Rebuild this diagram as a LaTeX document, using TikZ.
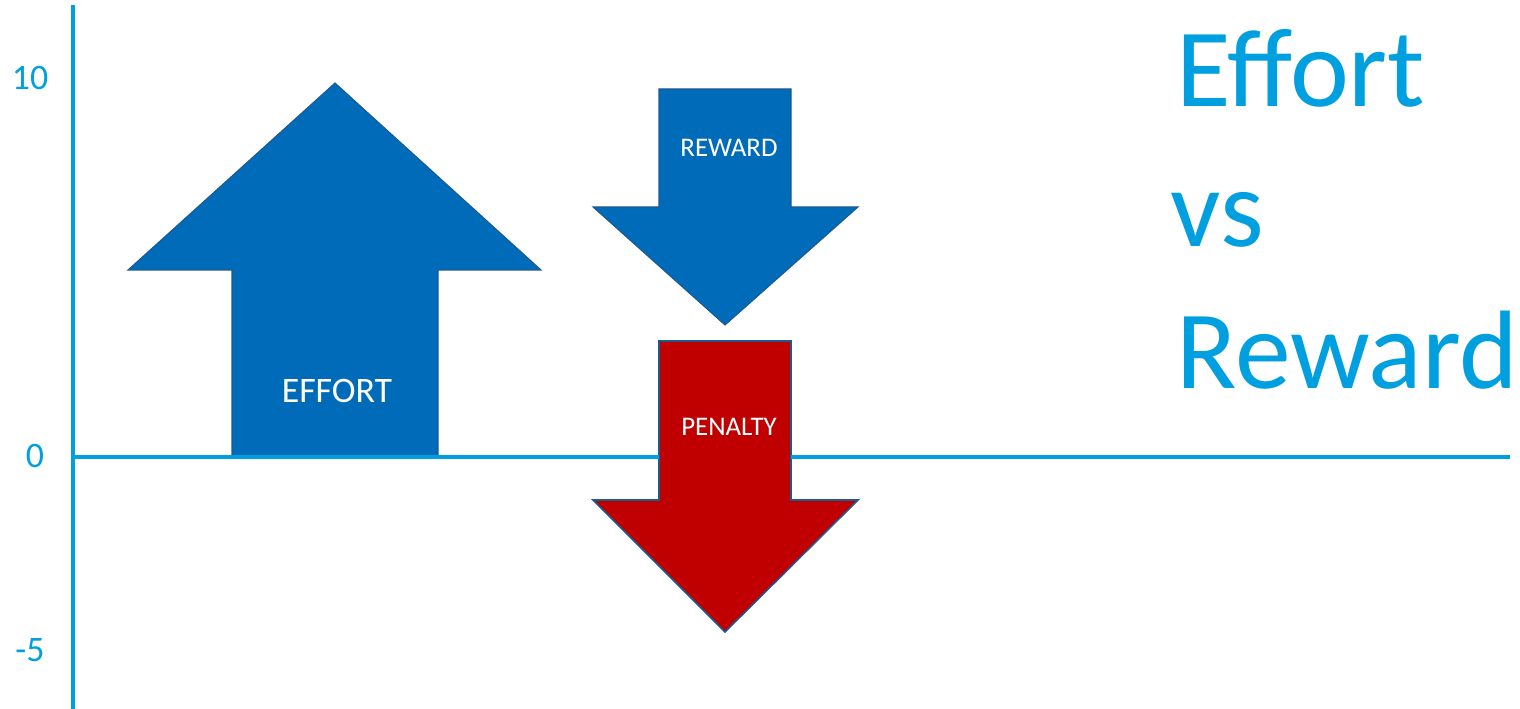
\documentclass[tikz,border=0pt]{standalone}
\usepackage{fontspec}
\setmainfont{Carlito}
\definecolor{axiscol}{HTML}{009FDF}
\definecolor{arrowblue}{HTML}{006BB9}
\definecolor{arrowedge}{HTML}{1D5A8E}
\definecolor{penaltyred}{HTML}{C00000}
\begin{document}
\begin{tikzpicture}[x=0.02cm,y=-0.02cm,
  axisline/.style={draw=axiscol,line width=2.2pt},
  ticklabel/.style={text=axiscol,anchor=base,inner sep=0pt,font=\fontsize{20.4}{24}\selectfont},
  bigarrow/.style={fill=arrowblue,draw=arrowedge,line width=0.6pt,line join=miter},
  redarrow/.style={fill=penaltyred,draw=arrowedge,line width=0.9pt,line join=miter},
  arrowtext/.style={text=white,anchor=base,inner sep=0pt},
  titletext/.style={text=axiscol,anchor=base west,inner sep=0pt,font=\fontsize{63.5}{76}\selectfont}]
\useasboundingbox (0,0) rectangle (1520,709);

% axes
\coordinate (ytop) at (73,5);
\coordinate (ybot) at (73,709);
\coordinate (xleft) at (73,457);
\coordinate (xright) at (1510,457);
\draw[axisline] (ytop) -- (ybot);

% effort arrow (pointing up)
\draw[bigarrow] (232,457) -- (232,270) -- (128,270) -- (335,83) -- (541,270)
  -- (438,270) -- (438,457) -- cycle;

% reward arrow (pointing down)
\draw[bigarrow] (659,89) -- (791,89) -- (791,207) -- (858,207) -- (725,325)
  -- (593,207) -- (659,207) -- cycle;

% penalty arrow (pointing down, below the reward)
\draw[redarrow] (659,341) -- (791,341) -- (791,500) -- (858,500) -- (725,632)
  -- (593,500) -- (659,500) -- cycle;

% horizontal axis, drawn over the effort arrow's base
\draw[axisline] (xleft) -- (659,457);
\draw[axisline] (791,457) -- (xright);

% scale labels
\node[ticklabel] (t10) at (30,90) {10};
\node[ticklabel] (t0) at (35,467) {0};
\node[ticklabel] (tm5) at (30,661) {-5};

% arrow captions
\node[arrowtext,font=\fontsize{20.4}{24}\selectfont] (effort) at (337,402) {EFFORT};
\node[arrowtext,font=\fontsize{15.3}{18}\selectfont] (reward) at (729,157) {REWARD};
\node[arrowtext,font=\fontsize{15.3}{18}\selectfont] (penalty) at (729,435) {PENALTY};

% title
\node[titletext] (l1) at (1176,107) {Effort};
\node[titletext] (l2) at (1170,247) {vs};
\node[titletext] (l3) at (1176,388) {Reward};
\end{tikzpicture}
\end{document}
